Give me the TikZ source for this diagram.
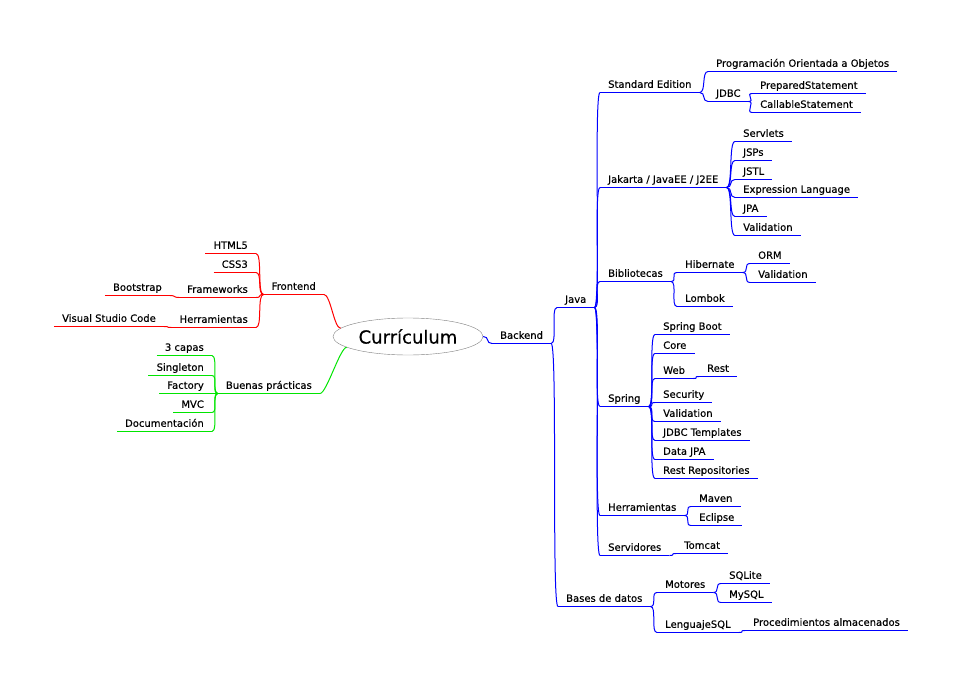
\documentclass[tikz,border=0pt]{standalone}
\usepackage{fontspec}
\setmainfont{DejaVu Sans}[AutoFakeBold=0.35]
\usetikzlibrary{shapes.geometric}
\definecolor{mmred}{rgb}{1.0, 0.0, 0.0}
\definecolor{mmgreen}{rgb}{0.0, 0.9, 0.0}
\definecolor{mmblue}{rgb}{0.0, 0.0, 1.0}
\definecolor{rootgray}{rgb}{0.5, 0.5, 0.5}
\tikzset{
	topic/.style={inner xsep=8pt, inner ysep=4.5pt, text depth=0pt, font=\fontsize{10}{12}\selectfont\bfseries},
	rtopic/.style={topic, anchor=south west},
	ltopic/.style={topic, anchor=south east},
	rlink/.style={line width=1pt, out=0, in=180, distance=6.5pt},
	llink/.style={line width=1pt, out=180, in=0, distance=6.5pt},
	uline/.style={line width=1pt}
}
\begin{document}
\begin{tikzpicture}[x=1pt,y=-1pt]
	\useasboundingbox (0,0.5) rectangle (964,688.5);

	\node[ellipse, draw=rootgray, fill=white, minimum width=150pt, minimum height=37pt, inner sep=0pt, font=\fontsize{18}{22}\selectfont\bfseries] (root) at (408,337) {Currículum};

	% derecha
	\node[rtopic] (backend) at (492,344) {Backend};
	\node[rtopic] (java) at (557,308) {Java};
	\node[rtopic] (stded) at (600,93) {Standard Edition};
	\node[rtopic] (poo) at (708,72) {Programación Orientada a Objetos};
	\node[rtopic] (jdbc) at (708,102) {JDBC};
	\node[rtopic] (prep) at (752,94) {PreparedStatement};
	\node[rtopic] (call) at (752,113) {CallableStatement};
	\node[rtopic] (jakarta) at (600,188) {Jakarta / JavaEE / J2EE};
	\node[rtopic] (servlets) at (735,142) {Servlets};
	\node[rtopic] (jsps) at (735,161) {JSPs};
	\node[rtopic] (jstl) at (735,180) {JSTL};
	\node[rtopic] (expr) at (735,198) {Expression Language};
	\node[rtopic] (jpa) at (735,217) {JPA};
	\node[rtopic] (jvalid) at (735,236) {Validation};
	\node[rtopic] (biblio) at (600,282) {Bibliotecas};
	\node[rtopic] (hibernate) at (677,273) {Hibernate};
	\node[rtopic] (lombok) at (677,307) {Lombok};
	\node[rtopic] (orm) at (750,264) {ORM};
	\node[rtopic] (hvalid) at (750,283) {Validation};
	\node[rtopic] (spring) at (600,407) {Spring};
	\node[rtopic] (sboot) at (655,335) {Spring Boot};
	\node[rtopic] (core) at (655,354) {Core};
	\node[rtopic] (web) at (655,379) {Web};
	\node[rtopic] (rest) at (699,377) {Rest};
	\node[rtopic] (security) at (655,403) {Security};
	\node[rtopic] (svalid) at (655,422) {Validation};
	\node[rtopic] (jdbctpl) at (655,441) {JDBC Templates};
	\node[rtopic] (datajpa) at (655,460) {Data JPA};
	\node[rtopic] (restrepo) at (655,479) {Rest Repositories};
	\node[rtopic] (herr) at (600,516) {Herramientas};
	\node[rtopic] (maven) at (691,507) {Maven};
	\node[rtopic] (eclipse) at (691,526) {Eclipse};
	\node[rtopic] (servidores) at (600,556) {Servidores};
	\node[rtopic] (tomcat) at (676,554) {Tomcat};
	\node[rtopic] (bases) at (558,607) {Bases de datos};
	\node[rtopic] (motores) at (657,593) {Motores};
	\node[rtopic] (sqlite) at (721,584) {SQLite};
	\node[rtopic] (mysql) at (721,603) {MySQL};
	\node[rtopic] (lenguaje) at (657,633) {LenguajeSQL};
	\node[rtopic] (proc) at (745,631) {Procedimientos almacenados};

	% izquierda
	\node[ltopic] (frontend) at (324,295) {Frontend};
	\node[ltopic] (html5) at (256,254) {HTML5};
	\node[ltopic] (css3) at (256,273) {CSS3};
	\node[ltopic] (frameworks) at (256,298) {Frameworks};
	\node[ltopic] (lherr) at (256,328) {Herramientas};
	\node[ltopic] (bootstrap) at (170,296) {Bootstrap};
	\node[ltopic] (vscode) at (164,327) {Visual Studio Code};
	\node[ltopic] (buenas) at (320,394) {Buenas prácticas};
	\node[ltopic] (capas) at (212,356) {3 capas};
	\node[ltopic] (singleton) at (212,376) {Singleton};
	\node[ltopic] (factory) at (212,394) {Factory};
	\node[ltopic] (mvc) at (212,413) {MVC};
	\node[ltopic] (docu) at (212,432) {Documentación};

	\foreach \n in {backend,java,stded,poo,jdbc,prep,call,jakarta,servlets,jsps,jstl,expr,jpa,jvalid,biblio,hibernate,lombok,orm,hvalid,spring,sboot,core,web,rest,security,svalid,jdbctpl,datajpa,restrepo,herr,maven,eclipse,servidores,tomcat,bases,motores,sqlite,mysql,lenguaje,proc}
		\draw[mmblue,uline] (\n.south west) -- (\n.south east);
	\foreach \n in {frontend,html5,css3,frameworks,lherr,bootstrap,vscode}
		\draw[mmred,uline] (\n.south west) -- (\n.south east);
	\foreach \n in {buenas,capas,singleton,factory,mvc,docu}
		\draw[mmgreen,uline] (\n.south west) -- (\n.south east);

	\draw[mmblue,rlink] (root.east) to (backend.south west);
	\foreach \a/\b in {backend/java,backend/bases,java/stded,java/jakarta,java/biblio,java/spring,java/herr,java/servidores,stded/poo,stded/jdbc,jdbc/prep,jdbc/call,jakarta/servlets,jakarta/jsps,jakarta/jstl,jakarta/expr,jakarta/jpa,jakarta/jvalid,biblio/hibernate,biblio/lombok,hibernate/orm,hibernate/hvalid,spring/sboot,spring/core,spring/web,spring/security,spring/svalid,spring/jdbctpl,spring/datajpa,spring/restrepo,web/rest,herr/maven,herr/eclipse,servidores/tomcat,bases/motores,bases/lenguaje,motores/sqlite,motores/mysql,lenguaje/proc}
		\draw[mmblue,rlink] (\a.south east) to (\b.south west);

	\draw[mmred,llink] (root.173) to (frontend.south east);
	\foreach \a/\b in {frontend/html5,frontend/css3,frontend/frameworks,frontend/lherr,frameworks/bootstrap,lherr/vscode}
		\draw[mmred,llink] (\a.south west) to (\b.south east);

	\draw[mmgreen,llink] (root.190) to (buenas.south east);
	\foreach \a/\b in {buenas/capas,buenas/singleton,buenas/factory,buenas/mvc,buenas/docu}
		\draw[mmgreen,llink] (\a.south west) to (\b.south east);
\end{tikzpicture}
\end{document}
